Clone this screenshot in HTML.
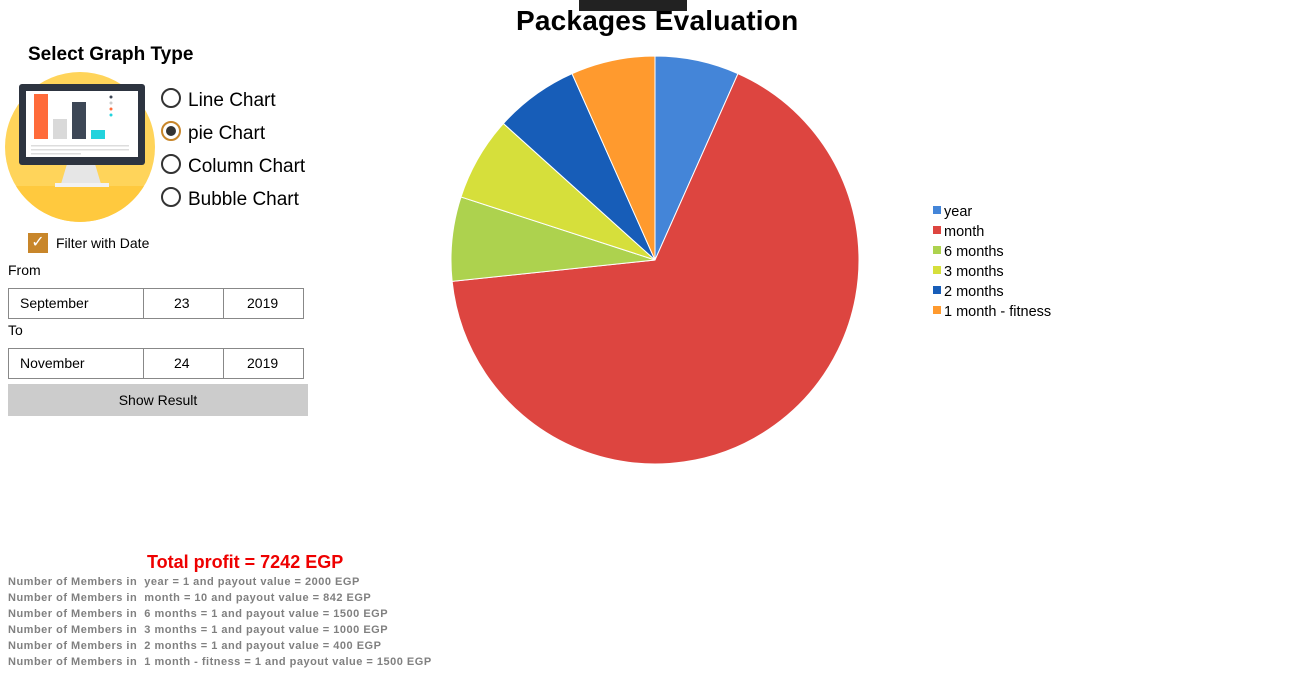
<!DOCTYPE html>
<html><head><meta charset="utf-8"><style>
body{margin:0;width:1301px;height:692px;background:#fff;font-family:"Liberation Sans",sans-serif;position:relative;overflow:hidden;color:#000}
.a{position:absolute;white-space:nowrap}
.rad{position:absolute;width:16px;height:16px;border:2px solid #333;border-radius:50%}
.box{position:absolute;left:8px;width:294px;height:29px;border:1.5px solid #888;font-size:14px}
.box span{position:absolute;top:6px}
.info{font-size:11px;font-weight:bold;color:#808080;left:8px;white-space:pre;letter-spacing:0.5px}
</style></head><body>
<div class="a" style="left:516px;top:5px;font-size:28px;font-weight:bold;letter-spacing:0.2px">Packages Evaluation</div>
<div class="a" style="left:579px;top:0;width:108px;height:11px;background:#222"></div>
<div class="a" style="left:28px;top:44px;font-size:19px;font-weight:bold">Select Graph Type</div>
<svg class="a" style="left:5px;top:72px" width="150" height="150" viewBox="0 0 150 150">
<circle cx="75" cy="75" r="75" fill="#ffd45a"/>
<path d="M11,114 H139 A75,75 0 0 1 11,114Z" fill="#ffc93e"/>
<polygon points="62,92 90,92 96,112 56,112" fill="#e6e6e6"/>
<rect x="50" y="111" width="54" height="4" fill="#f2f2f2"/>
<rect x="14" y="12" width="126" height="81" rx="3" fill="#2d3440"/>
<rect x="21" y="19" width="112" height="66" fill="#fff"/>
<rect x="29" y="22" width="14" height="45" fill="#ff6b3a"/>
<rect x="48" y="47" width="14" height="20" fill="#d9d9d9"/>
<rect x="67" y="30" width="14" height="37" fill="#3d4756"/>
<rect x="86" y="58" width="14" height="9" fill="#22d3dd"/>
<circle cx="106" cy="25" r="1.5" fill="#3d4756"/><circle cx="106" cy="31" r="1.5" fill="#ccc"/><circle cx="106" cy="37" r="1.5" fill="#ff6b3a"/><circle cx="106" cy="43" r="1.5" fill="#22d3dd"/>
<rect x="26" y="73" width="98" height="1.5" fill="#ddd"/><rect x="26" y="77" width="98" height="1.5" fill="#ddd"/><rect x="26" y="81" width="50" height="1.5" fill="#ddd"/>
</svg>
<div class="rad" style="left:161px;top:88px"></div>
<div class="a" style="left:188px;top:90px;font-size:19px">Line Chart</div>
<div class="rad" style="left:161px;top:121px;border-color:#c8862a"><div style="position:absolute;left:3px;top:3px;width:10px;height:10px;border-radius:50%;background:#333"></div></div>
<div class="a" style="left:188px;top:123px;font-size:19px">pie Chart</div>
<div class="rad" style="left:161px;top:154px"></div>
<div class="a" style="left:188px;top:156px;font-size:19px">Column Chart</div>
<div class="rad" style="left:161px;top:187px"></div>
<div class="a" style="left:188px;top:189px;font-size:19px">Bubble Chart</div>
<div class="a" style="left:28px;top:233px;width:20px;height:20px;background:#c8862a;color:#fff;font-size:16px;text-align:center;line-height:20px">✓</div>
<div class="a" style="left:56px;top:235px;font-size:14px">Filter with Date</div>
<div class="a" style="left:8px;top:262px;font-size:14px">From</div>
<div class="box" style="top:288px"><span style="left:11px">September</span><span style="left:134px;top:0;height:29px;border-left:1.5px solid #888"></span><span style="left:165px">23</span><span style="left:214px;top:0;height:29px;border-left:1.5px solid #888"></span><span style="left:238px">2019</span></div>
<div class="a" style="left:8px;top:322px;font-size:14px">To</div>
<div class="box" style="top:348px"><span style="left:11px">November</span><span style="left:134px;top:0;height:29px;border-left:1.5px solid #888"></span><span style="left:165px">24</span><span style="left:214px;top:0;height:29px;border-left:1.5px solid #888"></span><span style="left:238px">2019</span></div>
<div class="a" style="left:8px;top:384px;width:300px;height:32px;background:#ccc;font-size:14px;text-align:center;line-height:32px">Show Result</div>
<svg class="a" id="pie" style="left:0;top:0" width="1301" height="692"></svg>
<div class="a" style="left:147px;top:552px;font-size:18px;font-weight:bold;color:#e00">Total profit = 7242 EGP</div>
<div id="info"></div>
<script>
const categories=["year","month","6 months","3 months","2 months","1 month - fitness"];
const members=[1,10,1,1,1,1];
const payouts=[2000,842,1500,1000,400,1500];
const colors=["#4485d8","#dd4540","#add24e","#d6df3b","#175db8","#ff9a2e"];
const ns="http://www.w3.org/2000/svg";
const svg=document.getElementById("pie");
const cx=655,cy=260,r=204;
const total=members.reduce((a,b)=>a+b,0);
let ang=0;
members.forEach((v,i)=>{
  const a0=ang,a1=ang+v/total*2*Math.PI;ang=a1;
  const x0=cx+r*Math.sin(a0),y0=cy-r*Math.cos(a0),x1=cx+r*Math.sin(a1),y1=cy-r*Math.cos(a1);
  const p=document.createElementNS(ns,"path");
  p.setAttribute("d",`M${cx},${cy}L${x0},${y0}A${r},${r} 0 ${a1-a0>Math.PI?1:0} 1 ${x1},${y1}Z`);
  p.setAttribute("fill",colors[i]);p.setAttribute("stroke","#fff");p.setAttribute("stroke-width","1");
  
  
  svg.appendChild(p);
  const lr=document.createElementNS(ns,"rect");
  lr.setAttribute("x",933);lr.setAttribute("y",206+i*20);lr.setAttribute("width",8);lr.setAttribute("height",8);lr.setAttribute("fill",colors[i]);
  
  
  svg.appendChild(lr);
  const t=document.createElementNS(ns,"text");
  t.setAttribute("x",944);t.setAttribute("y",216+i*20);t.setAttribute("font-size","14.5");t.setAttribute("font-family","Liberation Sans, sans-serif");
  t.textContent=categories[i];
  
  
  svg.appendChild(t);
  const d=document.createElement("div");
  d.className="a info";d.style.top=(576+i*16)+"px";
  d.textContent="Number of Members in  "+categories[i]+" = "+v+" and payout value = "+payouts[i]+" EGP";
  
  
  document.getElementById("info").appendChild(d);
});
</script>
</body></html>
